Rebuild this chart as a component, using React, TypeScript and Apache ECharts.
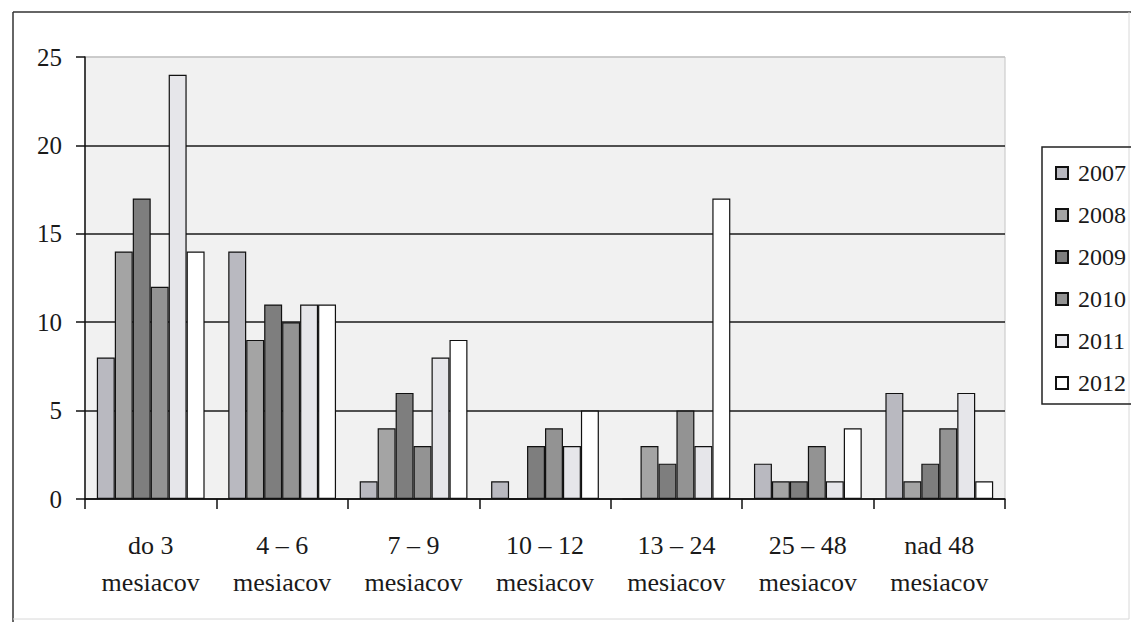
import React, { useEffect, useRef } from "react";
import * as echarts from "echarts";

const categories = [
  "do 3\nmesiacov",
  "4 – 6\nmesiacov",
  "7 – 9\nmesiacov",
  "10 – 12\nmesiacov",
  "13 – 24\nmesiacov",
  "25 – 48\nmesiacov",
  "nad 48\nmesiacov",
];

const years = ["2007", "2008", "2009", "2010", "2011", "2012"];

const v2007 = [8, 14, 1, 1, 0, 2, 6];
const v2008 = [14, 9, 4, 0, 3, 1, 1];
const v2009 = [17, 11, 6, 3, 2, 1, 2];
const v2010 = [12, 10, 3, 4, 5, 3, 4];
const v2011 = [24, 11, 8, 3, 3, 1, 6];
const v2012 = [14, 11, 9, 5, 17, 4, 1];

const seriesValues = [v2007, v2008, v2009, v2010, v2011, v2012];
const seriesColors = ["#b9b9c0", "#a4a4a4", "#7e7e7e", "#939393", "#e6e6ea", "#ffffff"];

const yTicks = [0, 5, 10, 15, 20, 25];

const FONT = "Liberation Serif, DejaVu Serif";

export default function App() {
  const ref = useRef<HTMLDivElement>(null);

  useEffect(() => {
    if (!ref.current) return;
    const chart = echarts.init(ref.current, undefined, { renderer: "svg" });
    chart.setOption({
      animation: false,
      backgroundColor: "#ffffff",
      textStyle: { fontFamily: FONT },
      grid: {
        left: 85,
        right: 1131 - 1005,
        top: 57,
        bottom: 622 - 499,
        show: true,
        backgroundColor: "#f1f1f1",
        borderColor: "#c4c4c4",
        borderWidth: 1,
      },
      legend: {
        orient: "vertical",
        left: 1050,
        top: 155,
        itemWidth: 12,
        itemHeight: 12,
        itemGap: 16,
        icon: "rect",
        data: years,
        textStyle: {
          fontFamily: FONT,
          fontSize: 24,
          lineHeight: 26,
          color: "#1a1a1a",
          padding: [0, 0, 0, 5],
        },
      },
      xAxis: {
        type: "category",
        data: categories,
        boundaryGap: true,
        axisLine: { show: true, lineStyle: { color: "#111", width: 1.5 } },
        axisTick: { show: true, length: 10, alignWithLabel: false, lineStyle: { color: "#111", width: 1.5 } },
        axisLabel: {
          interval: 0,
          fontFamily: FONT,
          fontSize: 26,
          lineHeight: 37,
          color: "#1a1a1a",
          margin: 28,
        },
        splitLine: { show: false },
      },
      yAxis: {
        type: "value",
        min: yTicks[0],
        max: yTicks[yTicks.length - 1],
        interval: 5,
        axisLine: { show: true, lineStyle: { color: "#111", width: 1.5 } },
        axisTick: { show: true, length: 9, lineStyle: { color: "#111", width: 1.5 } },
        axisLabel: {
          fontFamily: FONT,
          fontSize: 25,
          color: "#1a1a1a",
          margin: 23,
        },
        splitLine: {
          show: true,
          lineStyle: {
            color: ["#1a1a1a", "#1a1a1a", "#1a1a1a", "#1a1a1a", "#1a1a1a", "#c4c4c4"],
            width: 1.5,
          },
        },
      },
      series: years.map((y, i) => ({
        name: y,
        type: "bar",
        data: seriesValues[i],
        barGap: "0%",
        barCategoryGap: "18%",
        itemStyle: {
          color: seriesColors[i],
          borderColor: "#111",
          borderWidth: 1.2,
        },
      })),
      graphic: [
        {
          type: "line",
          shape: { x1: 13, y1: 12, x2: 1131, y2: 12 },
          style: { stroke: "#333", lineWidth: 1.5 },
        },
        {
          type: "line",
          shape: { x1: 13, y1: 12, x2: 13, y2: 622 },
          style: { stroke: "#333", lineWidth: 1.5 },
        },
        {
          type: "line",
          shape: { x1: 13, y1: 619, x2: 1129, y2: 619 },
          style: { stroke: "#d8d8d8", lineWidth: 1 },
        },
        {
          type: "line",
          shape: { x1: 1129, y1: 12, x2: 1129, y2: 619 },
          style: { stroke: "#d8d8d8", lineWidth: 1 },
        },
        {
          type: "rect",
          shape: { x: 1042, y: 147, width: 120, height: 257 },
          style: { fill: "rgba(0,0,0,0)", stroke: "#222", lineWidth: 1.5 },
        },
      ],
    });
    return () => chart.dispose();
  }, []);

  return (
    <div
      ref={ref}
      style={{ position: "fixed", left: 0, top: 0, width: 1131, height: 622, background: "#fff" }}
    />
  );
}
